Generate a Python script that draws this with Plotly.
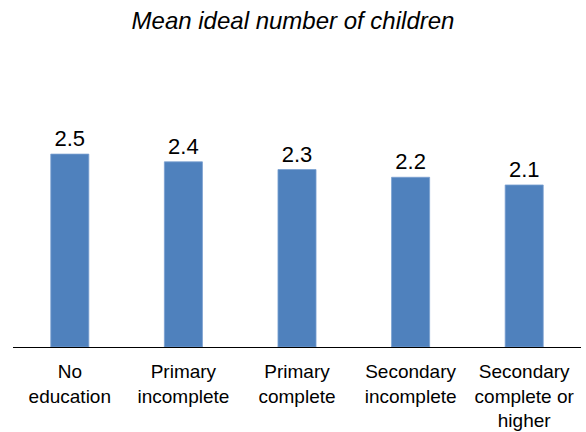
import plotly.graph_objects as go

categories = ["No<br>education", "Primary<br>incomplete", "Primary<br>complete",
              "Secondary<br>incomplete", "Secondary<br>complete or<br>higher"]
values = [2.5, 2.4, 2.3, 2.2, 2.1]
title_text = "Mean ideal number of children"

fig = go.Figure()
fig.add_trace(go.Bar(
    x=categories, y=values,
    width=0.335,
    marker=dict(color="#4F81BD", line=dict(color="#7A9FD0", width=0.8)),
    text=[f"{v:.1f}" for v in values],
    textposition="outside",
    textfont=dict(family="Liberation Sans, Arial, sans-serif", size=22, color="black"),
    cliponaxis=False,
))

fig.update_layout(
    width=586, height=432,
    margin=dict(l=13, r=5, t=60, b=84.5, autoexpand=False),
    paper_bgcolor="white", plot_bgcolor="white",
    showlegend=False,
    title=dict(text=f"<i>{title_text}</i>", x=0.5, xanchor="center",
               y=1 - 21 / 432, yanchor="middle", yref="container",
               font=dict(family="Liberation Sans, Arial, sans-serif", size=24, color="black")),
    xaxis=dict(showline=True, linecolor="black", linewidth=1, ticks="",
               automargin=False, ticklabelstandoff=7,
               tickfont=dict(family="Liberation Sans, Arial, sans-serif", size=19, color="black"),
               showgrid=False, zeroline=False),
    yaxis=dict(range=[0, 3.72], visible=False, showgrid=False, zeroline=False,
               automargin=False),
)

fig.write_html("out.html", config={"displayModeBar": False, "staticPlot": True},
               post_script="document.body.style.margin='0';")
